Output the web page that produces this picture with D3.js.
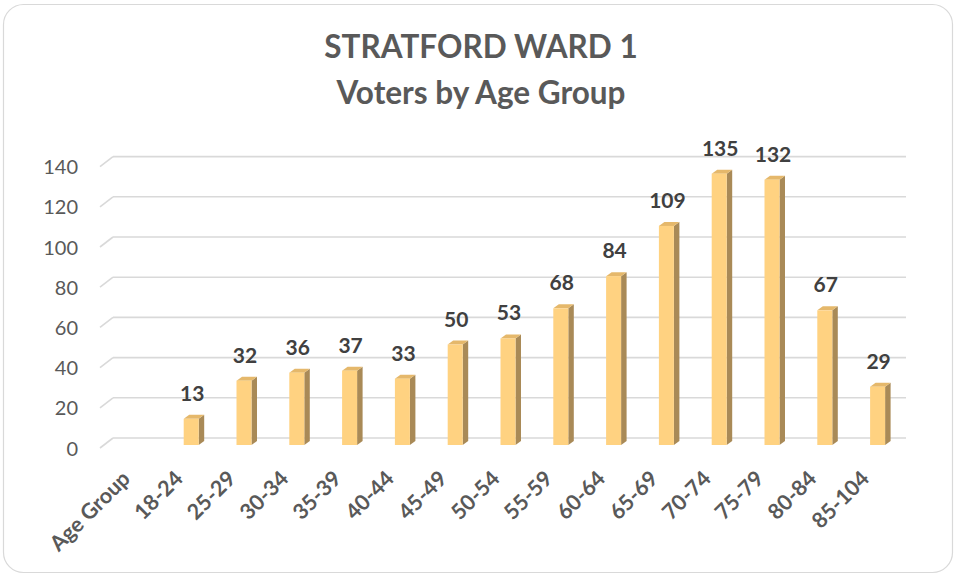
<!DOCTYPE html>
<html>
<head>
<meta charset="utf-8">
<script src="https://cdn.jsdelivr.net/npm/d3@7"></script>
<style>
  html, body { margin: 0; padding: 0; background: #ffffff; }
  svg { display: block; }
</style>
</head>
<body>
<svg id="chart" width="955" height="575"></svg>
<script>
// ---- data ----
const categories = ["Age Group", "18-24", "25-29", "30-34", "35-39", "40-44", "45-49", "50-54",
                    "55-59", "60-64", "65-69", "70-74", "75-79", "80-84", "85-104"];
const voters = [null, 13, 32, 36, 37, 33, 50, 53, 68, 84, 109, 135, 132, 67, 29];
const yTicks = [0, 20, 40, 60, 80, 100, 120, 140];
const titleLines = ["STRATFORD WARD 1", "Voters by Age Group"];

const FONT = "Lato, 'Open Sans', sans-serif";
const svg = d3.select("#chart");

// chart border
svg.append("rect")
  .attr("x", 3.5).attr("y", 4.5).attr("width", 949).attr("height", 568)
  .attr("rx", 20).attr("ry", 20)
  .attr("fill", "#ffffff").attr("stroke", "#d9d9d9").attr("stroke-width", 1.2);

// title
svg.append("g").selectAll("text").data(titleLines).join("text")
  .attr("x", 481).attr("y", (d, i) => 58 + i * 46)
  .attr("text-anchor", "middle")
  .attr("font-family", FONT).attr("font-weight", "bold").attr("font-size", 31.5)
  .attr("fill", "#595959")
  .text(d => d);

// scales
const x = d3.scaleBand().domain(categories).range([112, 904]).paddingInner(0).paddingOuter(0);
const yBack = d3.scaleLinear().domain([0, 140]).range([438, 156.6]);
const yFront = d3.scaleLinear().domain([0, 140]).range([448, 166.6]);
const yBar = d3.scaleLinear().domain([0, 140]).range([445, 163.6]);

// gridlines (back wall) + side diagonals
const grid = svg.append("g");
grid.selectAll("line.back").data(yTicks).join("line").attr("class", "back")
  .attr("x1", 113).attr("x2", 906)
  .attr("y1", d => yBack(d)).attr("y2", d => yBack(d))
  .attr("stroke", "#d9d9d9").attr("stroke-width", 1.6);
grid.selectAll("line.side").data(yTicks).join("line").attr("class", "side")
  .attr("x1", 100).attr("x2", 113)
  .attr("y1", d => yFront(d)).attr("y2", d => yBack(d))
  .attr("stroke", "#d9d9d9").attr("stroke-width", 1.6);

// y axis labels
const yAxis = d3.axisLeft(yFront).tickValues(yTicks).tickSize(0).tickPadding(0);
const yg = svg.append("g").attr("transform", "translate(78,0)").call(yAxis);
yg.select(".domain").remove();
yg.selectAll("text")
  .attr("font-family", FONT).attr("font-size", 20).attr("fill", "#595959")
  .attr("dy", "0.35em");

// bars (pseudo-3D)
const W = 15, DX = 5.5, DY = 4;
const bars = svg.append("g").selectAll("g").data(categories.map((c, i) => ({c, v: voters[i]})).filter(d => d.v != null))
  .join("g");
bars.each(function(d) {
  const g = d3.select(this);
  const x0 = x(d.c) + x.bandwidth() / 2 - W / 2;
  const yt = yBar(d.v), yb = yBar(0);
  g.append("polygon")
    .attr("points", [[x0 + W, yt], [x0 + W + DX, yt - DY], [x0 + W + DX, yb - DY], [x0 + W, yb]].join(" "))
    .attr("fill", "#a98a57");
  g.append("polygon")
    .attr("points", [[x0, yt], [x0 + DX, yt - DY], [x0 + W + DX, yt - DY], [x0 + W, yt]].join(" "))
    .attr("fill", "#e5b86b");
  g.append("rect")
    .attr("x", x0).attr("y", yt).attr("width", W).attr("height", yb - yt)
    .attr("fill", "#ffd281");
});

// data labels
svg.append("g").selectAll("text").data(categories.map((c, i) => ({c, v: voters[i]})).filter(d => d.v != null))
  .join("text")
  .attr("x", d => x(d.c) + x.bandwidth() / 2 + 1)
  .attr("y", d => yBar(d.v) - 18)
  .attr("text-anchor", "middle")
  .attr("font-family", FONT).attr("font-weight", "bold").attr("font-size", 21)
  .attr("fill", "#404040")
  .text(d => d.v);

// x axis labels (rotated)
const xAxis = d3.axisBottom(x).tickSize(0).tickPadding(0);
const xg = svg.append("g").call(xAxis);
xg.select(".domain").remove();
xg.selectAll(".tick").attr("transform", d => `translate(${x(d) + x.bandwidth() / 2 - 7},480)`);
xg.selectAll("text")
  .attr("x", 0).attr("y", 0).attr("dy", 0)
  .attr("transform", "rotate(-45)")
  .attr("text-anchor", "end")
  .attr("font-family", FONT).attr("font-weight", "bold").attr("font-size", 21.5)
  .attr("fill", "#595959");
</script>
</body>
</html>
